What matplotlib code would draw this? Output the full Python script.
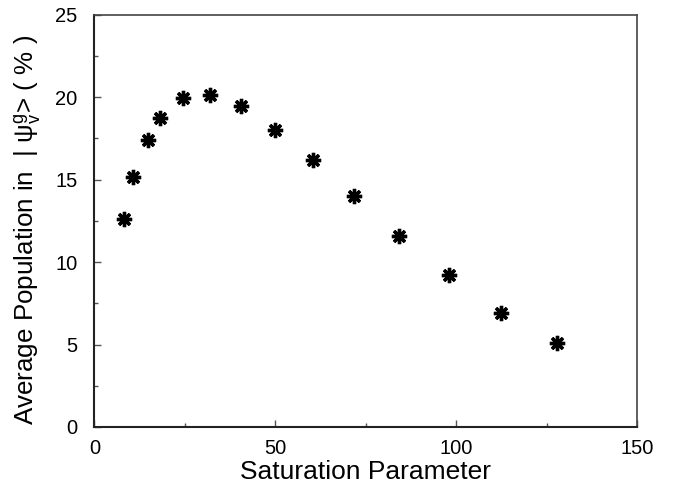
import matplotlib
matplotlib.use("Agg")
import matplotlib.pyplot as plt
from matplotlib.ticker import MultipleLocator

plt.rcParams['font.family'] = ['Liberation Sans', 'DejaVu Sans']
plt.rcParams['mathtext.fontset'] = 'custom'
plt.rcParams['mathtext.rm'] = 'Liberation Sans'
plt.rcParams['mathtext.it'] = 'Liberation Sans'

saturation = [8.1, 10.6, 14.8, 18.1, 24.5, 31.9, 40.5, 50.0, 60.4, 71.9, 84.3, 98.0, 112.4, 127.8]
population = [12.6, 15.13, 17.43, 18.73, 19.92, 20.15, 19.44, 18.02, 16.2, 14.02, 11.61, 9.22, 6.9, 5.08]

fig = plt.figure(figsize=(6.8, 4.93), dpi=100)
ax = fig.add_axes([0.1387, 0.1339, 0.7981, 0.8363])

ax.plot(saturation, population, linestyle='none', marker=(8, 2, 0),
        markersize=11, markeredgewidth=2.4, color='black')

ax.set_xlim(0, 150)
ax.set_ylim(0, 25)
ax.xaxis.set_major_locator(MultipleLocator(50))
ax.xaxis.set_minor_locator(MultipleLocator(25))
ax.yaxis.set_major_locator(MultipleLocator(5))
ax.yaxis.set_minor_locator(MultipleLocator(2.5))
ax.tick_params(which='both', direction='in', top=False, right=False,
               labelsize=14.5, colors='#555555', labelcolor='black')
ax.tick_params(axis='x', which='both', pad=9)
ax.tick_params(axis='y', which='both', pad=12)
ax.tick_params(which='major', length=5, width=1)
ax.tick_params(which='minor', length=3, width=1)

for s in ['left', 'bottom']:
    ax.spines[s].set_linewidth(1.5)
    ax.spines[s].set_color('#222222')
for s in ['top', 'right']:
    ax.spines[s].set_linewidth(1.2)
    ax.spines[s].set_color('#444444')

ax.set_xlabel('Saturation Parameter', fontsize=19, labelpad=1)
ax.set_ylabel(r'Average Population in  | ψ$_{\rm v}^{\rm g}$> ( % )', fontsize=18.7)
ax.yaxis.set_label_coords(-0.094, 0.478)

fig.savefig('out.png', dpi=100)
